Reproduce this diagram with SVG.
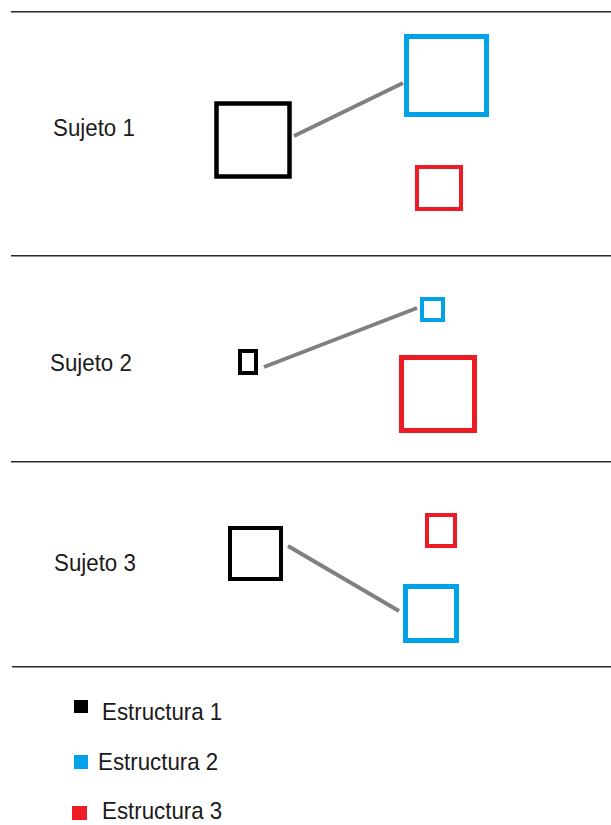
<svg xmlns="http://www.w3.org/2000/svg" width="611" height="825" viewBox="0 0 611 825">
  <style>
    .sep { stroke: #2a2a2a; stroke-width: 1.6; }
    .link { stroke: #808080; stroke-width: 4; stroke-linecap: butt; }
    .box { fill: none; }
    .s1 { stroke: #000000; }
    .s2 { stroke: #00a2e8; }
    .s3 { stroke: #ed1c24; }
    .lbl { font-family: "Liberation Sans", Arial, sans-serif; font-size: 24px; fill: #1a1a1a; }
  </style>
  <rect width="611" height="825" fill="#ffffff"/>

  <!-- row separators -->
  <g id="separators">
    <line class="sep" x1="11" y1="11.8" x2="611" y2="11.8"/>
    <line class="sep" x1="11" y1="255.8" x2="611" y2="255.8"/>
    <line class="sep" x1="11" y1="461.8" x2="611" y2="461.8"/>
    <line class="sep" x1="12" y1="666.8" x2="611" y2="666.8"/>
  </g>

  <!-- connectors between structures -->
  <g id="connectors">
    <line class="link" x1="294" y1="136" x2="403" y2="83"/>
    <line class="link" x1="264" y1="367" x2="417" y2="308"/>
    <line class="link" x1="288" y1="546" x2="399" y2="611"/>
  </g>

  <!-- Sujeto 1 -->
  <g id="sujeto1">
    <text class="lbl" transform="translate(53,136) scale(0.93,1)">Sujeto 1</text>
    <rect id="s1-e1" class="box s1" x="216.5" y="103.5" width="73" height="73" stroke-width="4.5"/>
    <rect id="s1-e2" class="box s2" x="406.5" y="36.5" width="80" height="78" stroke-width="5"/>
    <rect id="s1-e3" class="box s3" x="417" y="167" width="44" height="42" stroke-width="4"/>
  </g>

  <!-- Sujeto 2 -->
  <g id="sujeto2">
    <text class="lbl" transform="translate(50,371) scale(0.93,1)">Sujeto 2</text>
    <rect id="s2-e1" class="box s1" x="240" y="351" width="16" height="22" stroke-width="4"/>
    <rect id="s2-e2" class="box s2" x="422" y="299" width="21" height="21" stroke-width="4"/>
    <rect id="s2-e3" class="box s3" x="401.5" y="357.5" width="73" height="73" stroke-width="5"/>
  </g>

  <!-- Sujeto 3 -->
  <g id="sujeto3">
    <text class="lbl" transform="translate(54,571) scale(0.93,1)">Sujeto 3</text>
    <rect id="s3-e1" class="box s1" x="230" y="528" width="51" height="51" stroke-width="4"/>
    <rect id="s3-e2" class="box s2" x="405.5" y="586.5" width="51" height="54" stroke-width="5"/>
    <rect id="s3-e3" class="box s3" x="427" y="515" width="28" height="31" stroke-width="4"/>
  </g>

  <!-- legend -->
  <g id="legend">
    <rect x="74" y="700" width="14" height="13" fill="#000000"/>
    <text class="lbl" transform="translate(102,720) scale(0.93,1)">Estructura 1</text>
    <rect x="74" y="755" width="14" height="14" fill="#00a2e8"/>
    <text class="lbl" transform="translate(98,770) scale(0.93,1)">Estructura 2</text>
    <rect x="72" y="806" width="15" height="14" fill="#ed1c24"/>
    <text class="lbl" transform="translate(102,819) scale(0.93,1)">Estructura 3</text>
  </g>
</svg>
